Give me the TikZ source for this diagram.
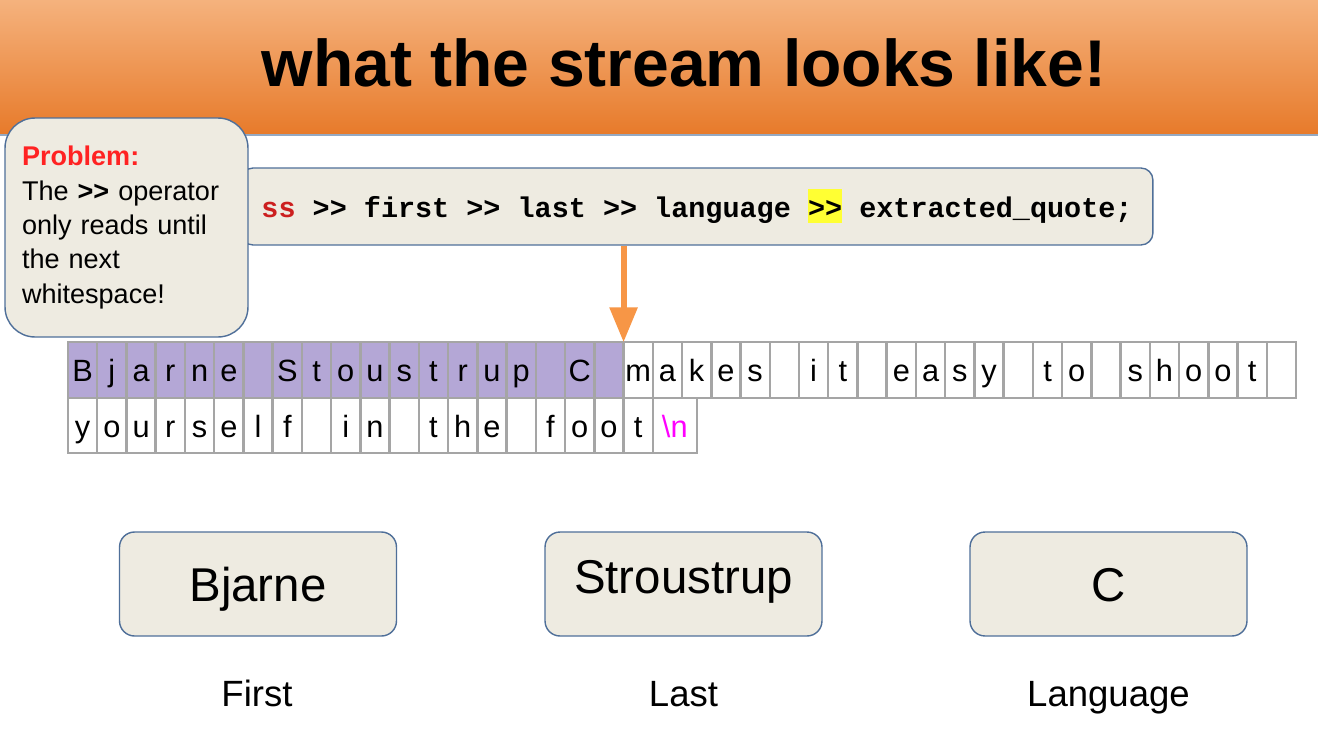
\documentclass[tikz,border=0pt]{standalone}
\usepackage{fontspec}
\setmainfont{Liberation Sans}
\setmonofont{Liberation Mono}
\usetikzlibrary{arrows.meta}

\definecolor{bartop}{HTML}{F5B27D}
\definecolor{barbottom}{HTML}{E77A2A}
\definecolor{boxfill}{HTML}{EEEBE1}
\definecolor{boxline}{HTML}{4F6F99}
\definecolor{readfill}{HTML}{B4A7D6}
\definecolor{gridgray}{HTML}{A5A5A5}
\definecolor{arroworange}{HTML}{F79646}
\definecolor{probred}{HTML}{FF2222}
\definecolor{codered}{HTML}{CC1F1F}
\definecolor{hlyellow}{HTML}{FFFF33}
\definecolor{nlmagenta}{HTML}{FF00FF}

\tikzset{
  cell/.style={draw=gridgray, line width=1.4pt, minimum width=0.5848cm,
    minimum height=1.11cm, inner sep=0pt, outer sep=0pt,
    text height=13.6pt, text depth=0pt, font=\fontsize{17.5}{20}\selectfont},
  roundbox/.style={draw=boxline, fill=boxfill, line width=0.8pt},
  valbox/.style={roundbox, rounded corners=0.3cm, minimum width=5.54cm,
    minimum height=2.08cm, text height=19.4pt, text depth=0pt,
    font=\fontsize{27}{32}\selectfont},
  vallabel/.style={inner sep=0pt, text height=15pt, text depth=0pt,
    font=\fontsize{20.8}{25}\selectfont},
}

\begin{document}
\begin{tikzpicture}[x=0.02cm, y=-0.02cm]
  \fill[white] (0,0) rectangle (1318,737);
  \useasboundingbox (0,0) rectangle (1318,737);

  % title bar
  \shade[top color=bartop, bottom color=barbottom] (0,0) rectangle (1318,135);
  \draw[boxline!60, line width=0.6pt] (0,135) -- (1318,135);
  \node[font=\fontsize{37.6}{44}\selectfont\bfseries, inner sep=0pt,
    text height=27.4pt, text depth=0pt] (title) at (684,62) {what the stream looks like!};

  % the statement
  \node[roundbox, rounded corners=0.24cm, minimum width=18.24cm, minimum height=1.54cm,
    text height=12.2pt, text depth=0pt, font=\fontsize{16.2}{20}\selectfont\ttfamily\bfseries]
    (code) at (697,206.5)
    {\textcolor{codered}{ss} >> first >> last >> language
     {\setlength{\fboxsep}{0pt}\colorbox{hlyellow}{\rule[-0.2em]{0pt}{1.2em}>>}} extracted\_quote;};

  \node[roundbox, rounded corners=0.6cm, minimum width=4.86cm, minimum height=4.38cm,
    text width=4.18cm, inner xsep=0.34cm, align=left,
    font=\fontsize{15.4}{19.6}\selectfont] (problem) at (126.5,227.5)
    {\textcolor{probred}{\bfseries Problem:}\\The \textbf{>{}>} operator\\only reads until\\the next\\whitespace!};

  % the stream buffer
  \foreach \ch [count=\i] in {B,j,a,r,n,e,{},S,t,o,u,s,t,r,u,p,{},C,{},m,a,k,e,s,{},
      i,t,{},e,a,s,y,{},t,o,{},s,h,o,o,t,{}} {
    \ifnum\i<20 \def\cellfill{readfill}\else\def\cellfill{white}\fi
    \node[cell, fill=\cellfill] (top-\i) at ({68+(\i-0.5)*29.24},370) {\ch};
  }
  \foreach \ch [count=\i] in {y,o,u,r,s,e,l,f,{},i,n,{},t,h,e,{},f,o,o,t} {
    \node[cell, fill=white] (bottom-\i) at ({68+(\i-0.5)*29.24},425.5) {\ch};
  }
  \node[cell, fill=white, minimum width=0.88cm, text=nlmagenta, anchor=west]
    (newline) at (bottom-20.east) {\textbackslash n};

  \draw[-{Triangle[width=0.54cm,length=0.7cm]}, arroworange, line width=0.12cm]
    (code.south -| top-19.north east) -- (top-19.north east);

  % extracted values
  \node[valbox] (first) at (258,584) {Bjarne};
  \node[valbox, text depth=8.1pt] (last) at (683.5,584) {Stroustrup};
  \node[valbox] (language) at (1108.5,584) {C};

  \node[vallabel] (firstlabel) at (257,693) {First};
  \node[vallabel] (lastlabel) at (683.5,693) {Last};
  \node[vallabel] (languagelabel) at (1108.5,693) {Language};
\end{tikzpicture}
\end{document}
